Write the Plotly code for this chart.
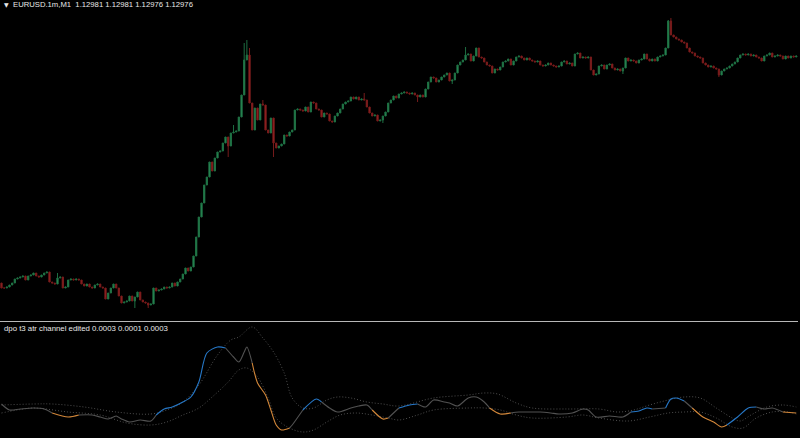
import plotly.graph_objects as go

# ---------------- data: EURUSD M1 candles (close prices) ----------------
close = [
 1.12744,1.12744,1.12745,1.12747,1.12749,1.12753,1.12754,1.12755,1.12756,1.12752,
 1.12756,1.12757,1.12759,1.12756,1.12755,1.12757,1.12759,1.12760,1.12750,1.12749,
 1.12748,1.12754,1.12755,1.12744,1.12745,1.12752,1.12753,1.12752,1.12753,1.12752,
 1.12748,1.12746,1.12748,1.12745,1.12744,1.12747,1.12748,1.12745,1.12744,1.12733,
 1.12739,1.12744,1.12748,1.12744,1.12736,1.12729,1.12730,1.12731,1.12736,1.12731,
 1.12735,1.12740,1.12732,1.12730,1.12729,1.12727,1.12728,1.12744,1.12741,1.12742,
 1.12743,1.12745,1.12744,1.12745,1.12749,1.12746,1.12750,1.12753,1.12758,1.12764,
 1.12761,1.12765,1.12776,1.12795,1.12815,1.12829,1.12847,1.12855,1.12870,1.12861,
 1.12874,1.12880,1.12881,1.12889,1.12895,1.12886,1.12899,1.12900,1.12901,1.12915,
 1.12937,1.12972,1.12977,1.12929,1.12902,1.12924,1.12912,1.12928,1.12927,1.12902,
 1.12899,1.12914,1.12889,1.12884,1.12886,1.12888,1.12897,1.12896,1.12900,1.12902,
 1.12922,1.12923,1.12922,1.12921,1.12925,1.12920,1.12930,1.12929,1.12923,1.12922,
 1.12915,1.12919,1.12918,1.12911,1.12910,1.12916,1.12919,1.12923,1.12928,1.12930,
 1.12931,1.12935,1.12933,1.12935,1.12932,1.12933,1.12932,1.12925,1.12919,1.12916,
 1.12917,1.12911,1.12912,1.12916,1.12920,1.12929,1.12932,1.12936,1.12934,1.12938,
 1.12939,1.12940,1.12939,1.12938,1.12939,1.12937,1.12935,1.12937,1.12935,1.12943,
 1.12950,1.12955,1.12954,1.12950,1.12952,1.12955,1.12957,1.12959,1.12951,1.12952,
 1.12959,1.12967,1.12970,1.12972,1.12977,1.12978,1.12971,1.12976,1.12984,1.12975,
 1.12974,1.12970,1.12967,1.12966,1.12959,1.12963,1.12962,1.12965,1.12970,1.12971,
 1.12973,1.12967,1.12971,1.12975,1.12976,1.12974,1.12972,1.12974,1.12972,1.12971,
 1.12970,1.12971,1.12967,1.12966,1.12967,1.12969,1.12967,1.12966,1.12965,1.12966,
 1.12970,1.12971,1.12968,1.12969,1.12966,1.12978,1.12979,1.12974,1.12975,1.12974,
 1.12975,1.12962,1.12957,1.12958,1.12966,1.12967,1.12963,1.12967,1.12968,1.12964,
 1.12962,1.12963,1.12961,1.12964,1.12974,1.12971,1.12972,1.12971,1.12969,1.12972,
 1.12973,1.12978,1.12973,1.12971,1.12973,1.12971,1.12975,1.12976,1.12977,1.12984,
 1.13011,1.12997,1.12995,1.12993,1.12992,1.12990,1.12989,1.12984,1.12980,1.12979,
 1.12976,1.12975,1.12974,1.12969,1.12967,1.12965,1.12966,1.12964,1.12963,1.12957,
 1.12961,1.12963,1.12964,1.12966,1.12968,1.12970,1.12974,1.12977,1.12978,1.12977,
 1.12978,1.12976,1.12977,1.12975,1.12974,1.12971,1.12976,1.12977,1.12979,1.12975,
 1.12976,1.12977,1.12976,1.12973,1.12976,1.12974,1.12976,1.12975,1.12976,
]
first_open = 1.12749
# candles whose wicks reach beyond the body
wick_high = {21: 1.12759, 87: 1.12907, 91: 1.12989, 92: 1.12992, 93: 1.12984,
             98: 1.12932, 136: 1.12939, 174: 1.12985, 250: 1.13012, 251: 1.13014}
wick_low = {50: 1.12724, 55: 1.12724, 85: 1.12875, 102: 1.12875, 143: 1.12909,
            156: 1.12930, 169: 1.12948, 233: 1.12958, 269: 1.12955}

# ---------------- data: dpo t3 atr channel (values in points, 1 pt = 0.00001) ----------------
dpo_idx = [0,3,7,12,16,19,25,29,34,37,40,42,43,45,48,52,56,58,61,64,
           68,71,74,77,81,84,87,89,91,92,94,96,99,101,103,105,108,109,113,118,
           120,123,126,131,134,137,139,143,145,149,153,156,159,162,166,168,171,175,178,181,
           183,187,191,194,198,202,206,209,214,218,220,223,228,233,236,239,242,244,249,251,
           253,256,259,263,267,270,272,276,280,283,286,289,293,298]
dpo_pts = [6,0,1,2,1,-3,-7,-5,-5,-7,-9,-7,-6,-9,-12,-10,-11,-5,1,3,
           8,13,28,57,63,62,53,48,58,63,47,27,15,0,-15,-20,-18,-15,0,11,
           8,2,-2,2,4,5,0,-9,-8,2,5,6,3,10,8,7,4,12,13,8,
           2,-4,-3,-2,-2,-2,-3,-4,-3,1,0,-7,-6,-7,-2,-1,2,1,2,11,
           12,9,2,-7,-12,-17,-15,-7,2,3,1,2,-2,-3]
blue_ranges = [(58,85),(113,121),(149,156),(161,163),(236,244),(249,256),(273,284)]
orange_ranges = [(19,27),(95,108),(139,145),(183,190),(259,272),(292,298)]

upper_idx = [0,12,19,31,43,56,62,68,74,81,86,89,94,98,102,106,109,113,117,122,
             126,131,137,143,149,162,175,181,186,193,199,212,224,231,237,243,250,256,262,268,
             274,277,281,287,293,298]
upper_pts = [5,6,6,3,-2,-4,0,8,25,55,70,73,83,72,58,37,12,2,2,10,
             13,12,8,6,4,12,15,17,16,7,2,1,1,-2,0,5,10,13,12,2,
             -8,-11,-5,3,5,3]
lower_idx = [0,6,12,25,37,47,56,62,68,74,79,85,89,92,96,100,103,108,113,117,
             122,127,133,139,145,149,156,162,175,181,187,193,199,212,218,224,235,243,250,256,
             262,268,274,278,283,289,295,298]
lower_pts = [-3,0,2,-2,-5,-13,-15,-12,-5,2,13,28,40,42,33,12,-8,-18,-22,-20,
             -12,-5,-3,-5,-8,-10,-5,0,2,2,0,-5,-8,-7,-5,-8,-11,-7,-3,-2,
             -2,-8,-17,-18,-8,-2,-2,-4]

header = "EURUSD.1m,M1  1.12981 1.12981 1.12976 1.12976"
sub_title = "dpo t3 atr channel edited 0.0003 0.0001 0.0003"

# ---------------- build ----------------
PT = 0.00001
n = len(close)
x = list(range(n))
open_ = [first_open] + close[:-1]
high = [max(o, c) for o, c in zip(open_, close)]
low = [min(o, c) for o, c in zip(open_, close)]
for k, v in wick_high.items():
    high[k] = max(high[k], v)
for k, v in wick_low.items():
    low[k] = min(low[k], v)

dpo = [p * PT for p in dpo_pts]
upper = [p * PT for p in upper_pts]
lower = [p * PT for p in lower_pts]

fig = go.Figure()
fig.add_trace(go.Candlestick(
    x=x, open=open_, high=high, low=low, close=close,
    increasing=dict(fillcolor="#2F9E64", line=dict(color="#1E6E42", width=1)),
    decreasing=dict(fillcolor="#A82828", line=dict(color="#761B1B", width=1)),
    hoverinfo="skip", xaxis="x", yaxis="y", showlegend=False))

# channel dotted lines
for xi, yi in ((upper_idx, upper), (lower_idx, lower)):
    fig.add_trace(go.Scatter(x=xi, y=yi, mode="lines", xaxis="x2", yaxis="y2",
                             line=dict(color="#4E4E4E", width=1, dash="1px,2px", shape="spline"),
                             hoverinfo="skip", showlegend=False))

def state(mid):
    for a, b in blue_ranges:
        if a <= mid <= b:
            return "blue"
    for a, b in orange_ranges:
        if a <= mid <= b:
            return "orange"
    return "gray"

colors = {"gray": "#525252", "blue": "#2678C8", "orange": "#D4883A"}
# split the dpo line into runs of one colour
runs = []
cur = None
for k in range(len(dpo_idx) - 1):
    s = state((dpo_idx[k] + dpo_idx[k + 1]) / 2)
    if cur is None or cur[0] != s:
        cur = [s, [k, k + 1]]
        runs.append(cur)
    else:
        cur[1].append(k + 1)
for s, ks in runs:
    fig.add_trace(go.Scatter(x=[dpo_idx[k] for k in ks], y=[dpo[k] for k in ks],
                             mode="lines", xaxis="x2", yaxis="y2",
                             line=dict(color=colors[s], width=1.1, shape="spline", smoothing=0.8),
                             hoverinfo="skip", showlegend=False))

W, H = 800, 438
xr = [-1.5 / 2.667, (W - 1.5) / 2.667]
fig.update_layout(
    width=W, height=H, margin=dict(l=0, r=0, t=0, b=0),
    paper_bgcolor="black", plot_bgcolor="black", showlegend=False,
    xaxis=dict(range=xr, visible=False, rangeslider=dict(visible=False), domain=[0, 1]),
    yaxis=dict(range=[1.12712, 1.13032], visible=False, domain=[1 - 320 / H, 1]),
    xaxis2=dict(range=xr, visible=False, anchor="y2", domain=[0, 1]),
    yaxis2=dict(range=[-28 * PT, 88 * PT], visible=False, domain=[0, 116 / H]),
    shapes=[
        dict(type="line", xref="paper", yref="paper", x0=0, x1=798 / W,
             y0=1 - 321.5 / H, y1=1 - 321.5 / H, line=dict(color="#B8B8B8", width=1)),
    ],
    annotations=[
        dict(text="▼", xref="paper", yref="paper", x=2 / W, y=1 - 4.5 / H,
             xanchor="left", yanchor="middle", showarrow=False,
             font=dict(family="DejaVu Sans", size=6, color="#E8E8E8")),
        dict(text=header, xref="paper", yref="paper", x=11 / W, y=1 - 4.5 / H,
             xanchor="left", yanchor="middle", showarrow=False,
             font=dict(family="Liberation Sans", size=7.7, color="#E8E8E8")),
        dict(text=sub_title, xref="paper", yref="paper", x=2 / W, y=1 - 328.5 / H,
             xanchor="left", yanchor="middle", showarrow=False,
             font=dict(family="Liberation Sans", size=7.8, color="#E8E8E8")),
    ],
)
fig.write_html("out.html", config={"displayModeBar": False},
               post_script="document.body.style.margin='0';document.body.style.background='black';")
